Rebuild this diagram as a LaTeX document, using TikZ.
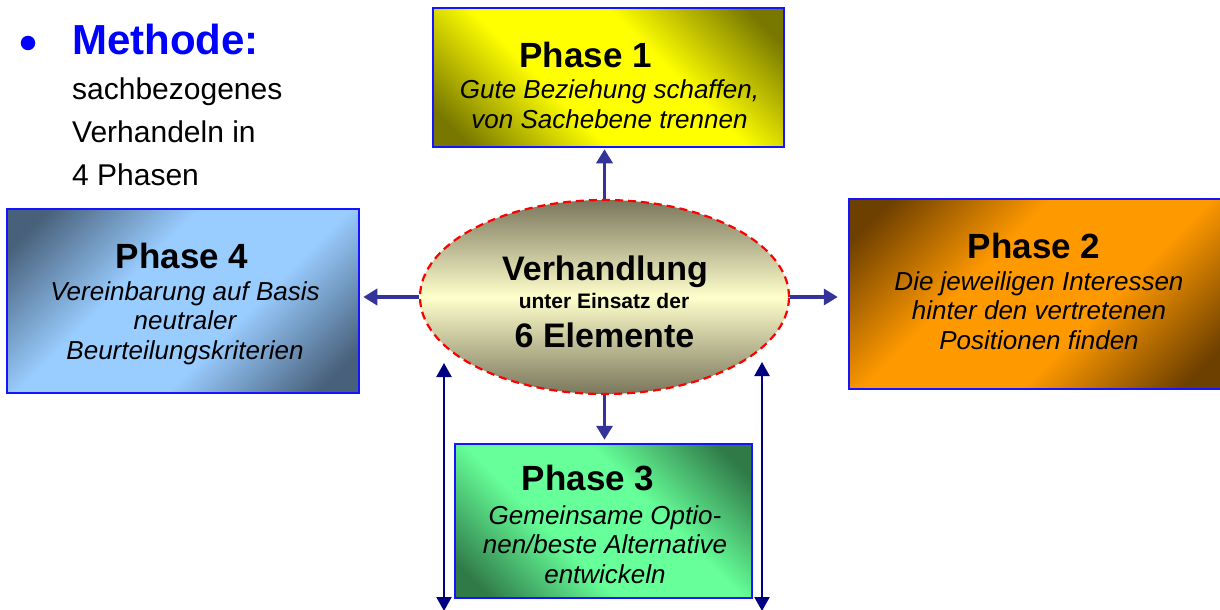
\documentclass[tikz,border=0pt]{standalone}
\usepackage{fontspec}
\setmainfont{Liberation Sans}
\usetikzlibrary{arrows.meta,shapes.geometric}
\definecolor{boxblue}{RGB}{20,20,255}
\definecolor{methblue}{RGB}{0,0,255}
\definecolor{arrblue}{RGB}{51,51,153}
\definecolor{navyarr}{RGB}{0,0,128}
\definecolor{yel}{RGB}{255,255,0}
\definecolor{olive1}{RGB}{120,120,0}
\definecolor{orng}{RGB}{255,153,0}
\definecolor{brwn}{RGB}{110,64,0}
\definecolor{lblue}{RGB}{153,204,255}
\definecolor{dslate}{RGB}{72,96,122}
\definecolor{lgreen}{RGB}{102,255,153}
\definecolor{dgreen}{RGB}{48,122,72}
\definecolor{cream}{RGB}{255,255,204}
\definecolor{dolive}{RGB}{122,118,92}
\pgfdeclareverticalshading{shyel}{100bp}{color(0bp)=(olive1); color(20bp)=(olive1); color(40bp)=(yel); color(60bp)=(yel); color(80bp)=(olive1); color(100bp)=(olive1)}
\pgfdeclareverticalshading{shorg}{100bp}{color(0bp)=(brwn); color(20bp)=(brwn); color(40bp)=(orng); color(60bp)=(orng); color(80bp)=(brwn); color(100bp)=(brwn)}
\pgfdeclareverticalshading{shblu}{100bp}{color(0bp)=(dslate); color(20bp)=(dslate); color(40bp)=(lblue); color(60bp)=(lblue); color(80bp)=(dslate); color(100bp)=(dslate)}
\pgfdeclareverticalshading{shgrn}{100bp}{color(0bp)=(dgreen); color(20bp)=(dgreen); color(40bp)=(lgreen); color(60bp)=(lgreen); color(80bp)=(dgreen); color(100bp)=(dgreen)}
\begin{document}
\begin{tikzpicture}[x=1pt,y=-1pt,
  phasebox/.style={draw=boxblue, line width=2.5pt, inner sep=0pt, rectangle},
  headtxt/.style={font=\bfseries\fontsize{35}{40}\selectfont, anchor=base, inner sep=0pt},
  bodytxt/.style={font=\itshape\fontsize{26}{29.5}\selectfont, align=center, anchor=base, inner sep=0pt},
  elltxt/.style={font=\bfseries\fontsize{34}{40}\selectfont, anchor=base, inner sep=0pt},
  arr/.style={draw=arrblue, line width=3.5pt, -{Triangle[length=14pt,width=16pt]}},
  darr/.style={draw=navyarr, line width=2.2pt, {Triangle[length=14pt,width=15pt]}-{Triangle[length=14pt,width=15pt]}}
]
\useasboundingbox (0,0) rectangle (1220,610);

% left text
\node[circle, fill=methblue, minimum size=14.5pt, inner sep=0pt] (bul) at (28,43) {};
\node[anchor=base west, inner sep=0pt, text=methblue, font=\bfseries\fontsize{42}{48}\selectfont] (meth) at (72,55) {Methode:};
\node[anchor=base west, inner sep=0pt, align=left, font=\fontsize{30}{43}\selectfont] (desc) at (72,185) {sachbezogenes\\Verhandeln in\\4 Phasen};

% Phase boxes
\node[phasebox, minimum width=351pt, minimum height=139pt, shading=shyel, shading angle=-45] (p1) at (608.5,77.5) {};
\node[phasebox, minimum width=375pt, minimum height=190pt, shading=shorg, shading angle=45] (p2) at (1036.5,294) {};
\node[phasebox, minimum width=352pt, minimum height=184pt, shading=shblu, shading angle=45] (p4) at (183,301) {};
\node[phasebox, minimum width=297pt, minimum height=154pt, shading=shgrn, shading angle=-45] (p3) at (603.5,521) {};

% Ellipse
\node[ellipse, draw=red, line width=2.2pt, dash pattern=on 8pt off 5pt, inner sep=0pt,
  minimum width=369pt, minimum height=194pt,
  top color=dolive, bottom color=dolive, middle color=cream] (ell) at (604.5,297) {};

% texts (anchor base = baseline of last line)
\node[headtxt] (p1h) at (585.5,67) {Phase 1};
\node[bodytxt] (p1b) at (609.5,128) {Gute Beziehung schaffen,\\von Sachebene trennen};
\node[headtxt] (p2h) at (1034,258) {Phase 2};
\node[bodytxt] (p2b) at (1039,349) {Die jeweiligen Interessen\\hinter den vertretenen\\Positionen finden};
\node[headtxt] (p4h) at (182,268) {Phase 4};
\node[bodytxt] (p4b) at (185,359) {Vereinbarung auf Basis\\neutraler\\Beurteilungskriterien};
\node[headtxt] (p3h) at (588,490) {Phase 3};
\node[bodytxt] (p3b) at (605,583) {Gemeinsame Optio-\\nen/beste Alternative\\entwickeln};
\node[elltxt] (e1) at (605,280) {Verhandlung};
\node[elltxt, font=\bfseries\fontsize{21}{24}\selectfont] (e2) at (604,308) {unter Einsatz der};
\node[elltxt] (e3) at (604.5,347) {6 Elemente};

% connectors
\draw[arr, shorten >=1pt] (ell.north) -- (ell.north |- p1.south);
\draw[arr, shorten >=3pt] (ell.west) -- (ell.west -| p4.east);
\draw[arr, shorten >=10pt] (ell.east) -- (ell.east -| p2.west);
\draw[arr, shorten >=3pt] (ell.south) -- (ell.south |- p3.north);

\coordinate (dla) at (444,363);
\coordinate (dlb) at (444,611);
\coordinate (dra) at (762,362);
\coordinate (drb) at (762,611);
\draw[darr] (dla) -- (dlb);
\draw[darr] (dra) -- (drb);
\end{tikzpicture}
\end{document}
